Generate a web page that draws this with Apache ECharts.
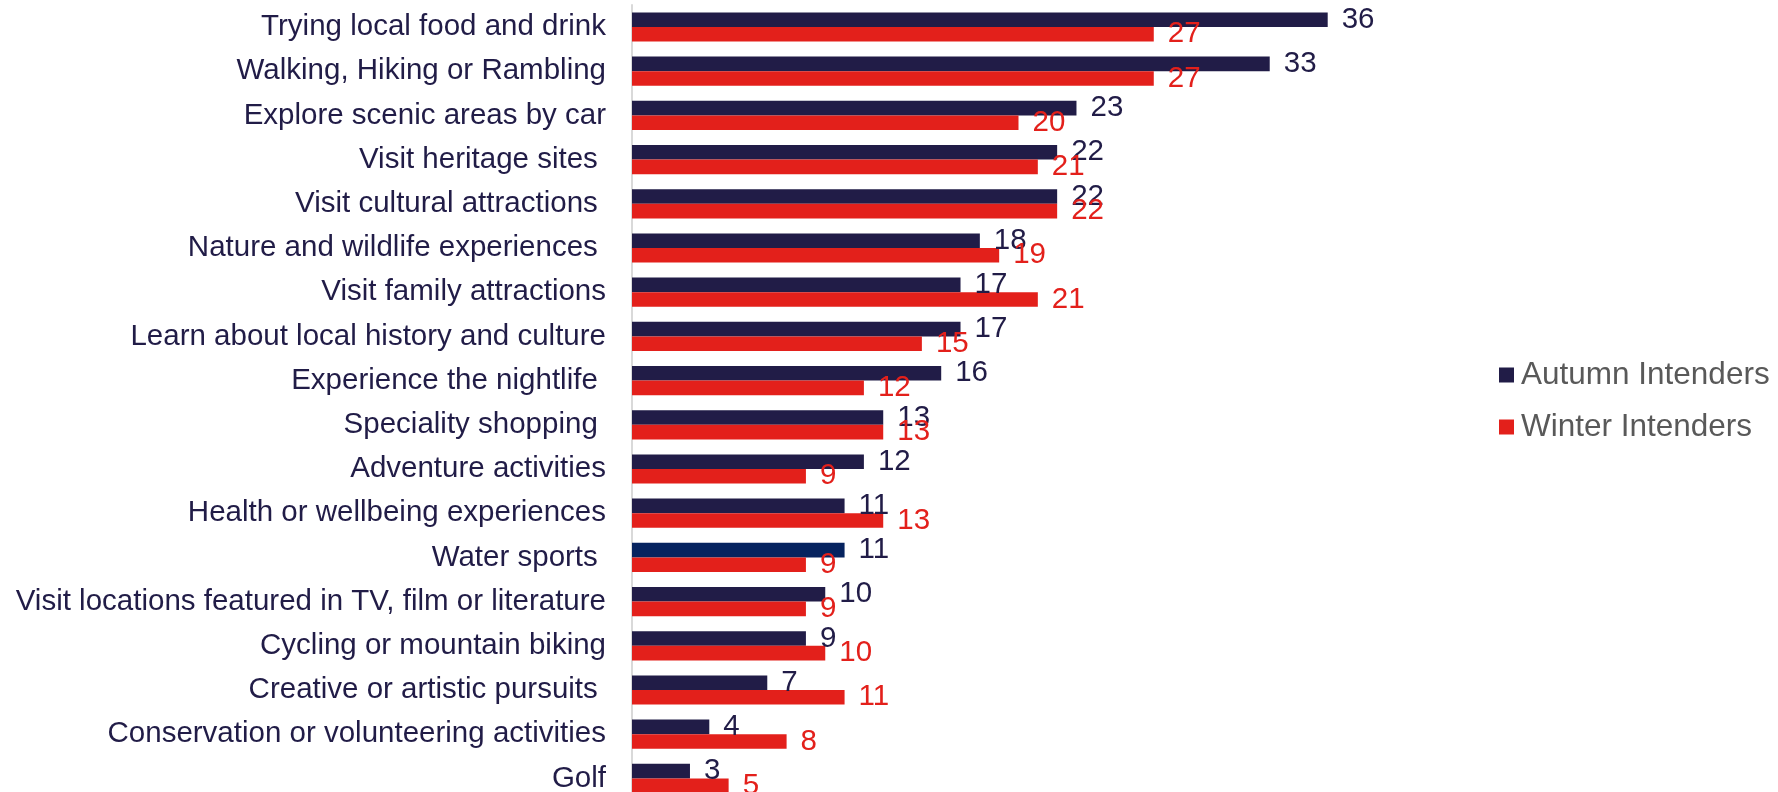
<!DOCTYPE html>
<html>
<head>
<meta charset="utf-8">
<script src="https://cdn.jsdelivr.net/npm/echarts@6/dist/echarts.min.js"></script>
<style>
  html, body { margin: 0; padding: 0; background: #ffffff; }
  #chart { width: 1778px; height: 792px; }
</style>
</head>
<body>
<div id="chart"></div>
<script>
// Activities of interest, % of intenders
const categories = [
  'Trying local food and drink',
  'Walking, Hiking or Rambling',
  'Explore scenic areas by car',
  'Visit heritage sites ',
  'Visit cultural attractions ',
  'Nature and wildlife experiences ',
  'Visit family attractions',
  'Learn about local history and culture',
  'Experience the nightlife ',
  'Speciality shopping ',
  'Adventure activities',
  'Health or wellbeing experiences',
  'Water sports ',
  'Visit locations featured in TV, film or literature',
  'Cycling or mountain biking',
  'Creative or artistic pursuits ',
  'Conservation or volunteering activities',
  'Golf'
];
const autumnValues = [36, 33, 23, 22, 22, 18, 17, 17, 16, 13, 12, 11, 11, 10, 9, 7, 4, 3];
const winterValues = [27, 27, 20, 21, 22, 19, 21, 15, 12, 13, 9, 13, 9, 9, 10, 11, 8, 5];
const seriesNames = ['Autumn Intenders', 'Winter Intenders'];

const NAVY = '#211c47';
const RED = '#e3201b';
const WATER_NAVY = '#06235f';
const FONT = '"Liberation Sans", Arial, sans-serif';

const autumnData = autumnValues.map((v, i) =>
  categories[i] === 'Water sports '
    ? { value: v, itemStyle: { color: WATER_NAVY } }
    : v
);

const chart = echarts.init(document.getElementById('chart'), null, { renderer: 'canvas' });

// The last row runs past the bottom edge of the canvas, so the grid gets an
// explicit height and is not shrunk to keep the labels inside the canvas.
chart.setOption({
  animation: false,
  backgroundColor: '#ffffff',
  grid: {
    left: 632, width: 773, top: 4.9, height: 795.6,
    containLabel: false,
    outerBoundsMode: 'none'
  },
  xAxis: {
    type: 'value',
    min: 0,
    max: 40,
    show: false
  },
  yAxis: {
    type: 'category',
    data: categories,
    inverse: true,
    axisLine: { show: true, lineStyle: { color: '#d9d9d9', width: 2 } },
    axisTick: { show: false },
    splitLine: { show: false },
    axisLabel: {
      margin: 26,
      color: NAVY,
      fontFamily: FONT,
      fontSize: 29.5
    }
  },
  legend: {
    orient: 'vertical',
    left: 1499,
    top: 359,
    padding: 0,
    icon: 'rect',
    itemWidth: 15,
    itemHeight: 15,
    itemGap: 20,
    selectedMode: false,
    textStyle: {
      color: '#595959',
      fontFamily: FONT,
      fontSize: 31.5,
      lineHeight: 31,
      padding: [0, 0, 0, 2]
    },
    data: seriesNames
  },
  series: [
    {
      name: seriesNames[0],
      type: 'bar',
      data: autumnData,
      barWidth: 14.6,
      barGap: '0%',
      itemStyle: { color: NAVY },
      label: {
        show: true,
        position: 'right',
        distance: 14,
        color: NAVY,
        fontFamily: FONT,
        fontSize: 29.5
      }
    },
    {
      name: seriesNames[1],
      type: 'bar',
      data: winterValues,
      barWidth: 14.6,
      barGap: '0%',
      itemStyle: { color: RED },
      label: {
        show: true,
        position: 'right',
        distance: 14,
        color: RED,
        fontFamily: FONT,
        fontSize: 29.5
      }
    }
  ]
});
</script>
</body>
</html>
